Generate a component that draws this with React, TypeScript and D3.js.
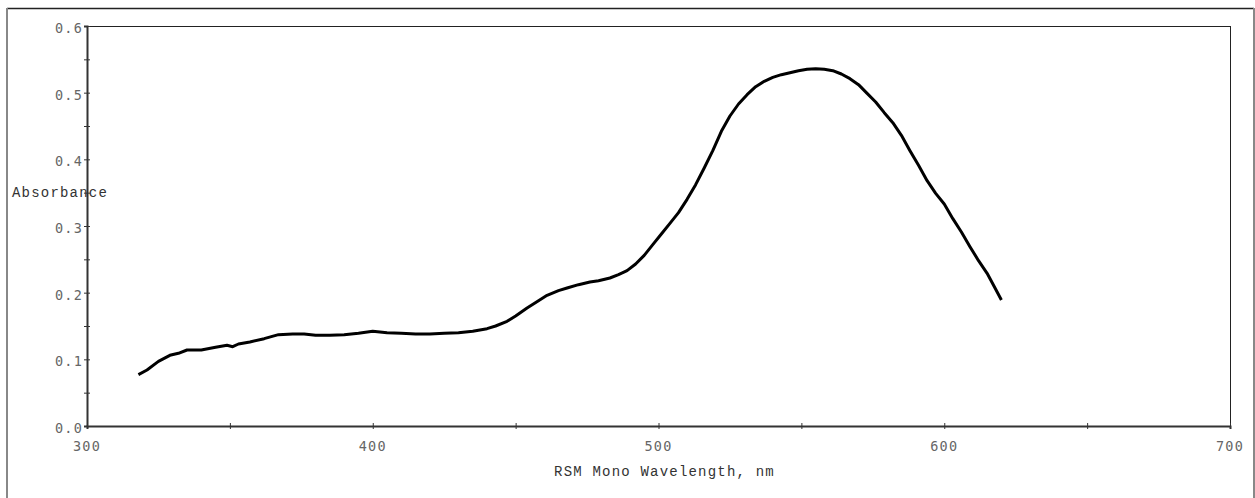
import React, { useRef, useEffect } from "react";
import { select, scaleLinear, line, axisBottom, axisLeft, curveLinear } from "d3";

const wavelengths = [
  318, 321, 325, 329, 332, 335, 340, 345, 349, 351, 353, 357, 362, 367, 372,
  376, 380, 385, 390, 395, 400, 405, 410, 415, 420, 425, 430, 435, 440, 443,
  447, 450, 454, 458, 461, 465, 468, 472, 476, 479, 483, 486, 489, 492, 495,
  498, 501, 504, 507, 510, 513, 516, 519, 522, 525, 528, 531, 534, 537, 540,
  543, 546, 549, 552, 555, 558, 561, 564, 567, 570, 573, 576, 579, 582, 585,
  588, 591, 594, 597, 600, 603, 606, 609, 612, 615, 618, 620
];

const absorbance = [
  0.077, 0.084, 0.097, 0.106, 0.109, 0.114, 0.114, 0.118, 0.121, 0.119, 0.123,
  0.126, 0.131, 0.137, 0.138, 0.138, 0.136, 0.136, 0.137, 0.139, 0.142, 0.14,
  0.139, 0.138, 0.138, 0.139, 0.14, 0.142, 0.146, 0.15, 0.157, 0.165, 0.177,
  0.188, 0.196, 0.203, 0.207, 0.212, 0.216, 0.218, 0.222, 0.227, 0.233, 0.243,
  0.256, 0.272, 0.288, 0.304, 0.32, 0.34, 0.362, 0.387, 0.413, 0.442, 0.465,
  0.483, 0.497, 0.509, 0.517, 0.523, 0.527, 0.53, 0.533, 0.535, 0.536, 0.535,
  0.533, 0.528, 0.521, 0.512, 0.499, 0.486, 0.47, 0.455, 0.436, 0.413, 0.391,
  0.368, 0.349, 0.333, 0.311, 0.291, 0.269, 0.248, 0.229, 0.205, 0.189
];

const xTickLabels = [300, 400, 500, 600, 700];
const xMinorTicks = [350, 450, 550, 650];
const yTickLabels = [0.0, 0.1, 0.2, 0.3, 0.4, 0.5, 0.6];
const yMinorTicks = [0.05, 0.15, 0.25, 0.35, 0.45, 0.55];

const xTitle = "RSM Mono Wavelength, nm";
const yTitle = "Absorbance";

const W = 1255;
const H = 498;
const margin = { left: 87, right: 25, top: 26, bottom: 72 };
const tickFont = "'DejaVu Sans Mono', 'Liberation Mono', monospace";
const titleFont = "'Courier New', Courier, 'Liberation Mono', monospace";

const App = () => {
  const svgRef = useRef(null);

  useEffect(() => {
    const svg = select(svgRef.current);
    const x0 = margin.left;
    const x1 = W - margin.right;
    const y0 = H - margin.bottom;
    const y1 = margin.top;

    const xScale = scaleLinear().domain([300, 700]).range([x0, x1]);
    const yScale = scaleLinear().domain([0, 0.6]).range([y0, y1]);

    // outer frame
    const frame = svg.select(".frame");
    frame.selectAll("*").remove();
    frame.append("line").attr("x1", 7).attr("x2", 1254).attr("y1", 8.5).attr("y2", 8.5)
      .attr("stroke", "#222").attr("stroke-width", 1.5);
    frame.append("line").attr("x1", 7).attr("x2", 7).attr("y1", 8).attr("y2", 498)
      .attr("stroke", "#888").attr("stroke-width", 2);
    frame.append("line").attr("x1", 1254).attr("x2", 1254).attr("y1", 8).attr("y2", 498)
      .attr("stroke", "#888").attr("stroke-width", 2);

    // plot box top / right
    const box = svg.select(".box");
    box.selectAll("*").remove();
    box.append("line").attr("x1", x0).attr("x2", x1).attr("y1", y1 + 0.5).attr("y2", y1 + 0.5)
      .attr("stroke", "#222").attr("stroke-width", 1);
    box.append("line").attr("x1", x1 + 0.5).attr("x2", x1 + 0.5).attr("y1", y1).attr("y2", y0)
      .attr("stroke", "#222").attr("stroke-width", 1);

    const xAxis = axisBottom(xScale)
      .tickValues([...xTickLabels, ...xMinorTicks])
      .tickSize(3)
      .tickFormat(() => "");
    const gx = svg.select(".x-axis").attr("transform", `translate(0,${y0})`).call(xAxis);
    gx.select(".domain").attr("stroke", "#333").attr("stroke-width", 2);
    gx.selectAll(".tick line").attr("y1", -3).attr("y2", 3).attr("stroke", "#333");

    const yAxis = axisLeft(yScale)
      .tickValues([...yTickLabels, ...yMinorTicks])
      .tickSize(3)
      .tickFormat(() => "");
    const gy = svg.select(".y-axis").attr("transform", `translate(${x0},0)`).call(yAxis);
    gy.select(".domain").attr("stroke", "#333").attr("stroke-width", 2);
    gy.selectAll(".tick line").attr("x1", -3).attr("x2", 3).attr("stroke", "#333");

    svg.select(".x-labels")
      .selectAll("text")
      .data(xTickLabels)
      .join("text")
      .attr("x", (d) => xScale(d))
      .attr("y", y0 + 25)
      .attr("text-anchor", "middle")
      .attr("font-family", tickFont)
      .attr("font-size", 13.5)
      .attr("letter-spacing", 1.2)
      .attr("fill", "#666")
      .text((d) => String(d));

    svg.select(".y-labels")
      .selectAll("text")
      .data(yTickLabels)
      .join("text")
      .attr("x", x0 - 4)
      .attr("y", (d) => yScale(d) + 7)
      .attr("text-anchor", "end")
      .attr("font-family", tickFont)
      .attr("font-size", 13.5)
      .attr("letter-spacing", 1.2)
      .attr("fill", "#666")
      .text((d) => d.toFixed(1));

    svg.select(".x-title")
      .attr("x", (x0 + x1) / 2 + 6)
      .attr("y", y0 + 50)
      .attr("text-anchor", "middle")
      .attr("font-family", titleFont)
      .attr("font-size", 14)
      .attr("letter-spacing", 1.2)
      .attr("fill", "#333")
      .text(xTitle);

    svg.select(".y-title")
      .attr("x", 12)
      .attr("y", 197)
      .attr("font-family", titleFont)
      .attr("font-size", 14)
      .attr("letter-spacing", 1.2)
      .attr("fill", "#333")
      .text(yTitle);

    const pts = wavelengths.map((w, i) => [w, absorbance[i]]);
    const spectrum = line()
      .x((d) => xScale(d[0]))
      .y((d) => yScale(d[1]))
      .curve(curveLinear);

    svg
      .selectAll(".spectrum")
      .data([pts])
      .join("path")
      .attr("class", "spectrum")
      .attr("d", spectrum)
      .attr("fill", "none")
      .attr("stroke", "#000")
      .attr("stroke-width", 3)
      .attr("stroke-linejoin", "round");
  }, []);

  return (
    <svg
      ref={svgRef}
      width={W}
      height={H}
      style={{ position: "absolute", left: 0, top: 0, background: "#fff" }}
    >
      <g className="frame" />
      <g className="box" />
      <g className="x-axis" />
      <g className="y-axis" />
      <g className="x-labels" />
      <g className="y-labels" />
      <text className="x-title" />
      <text className="y-title" />
    </svg>
  );
};

export default App;
